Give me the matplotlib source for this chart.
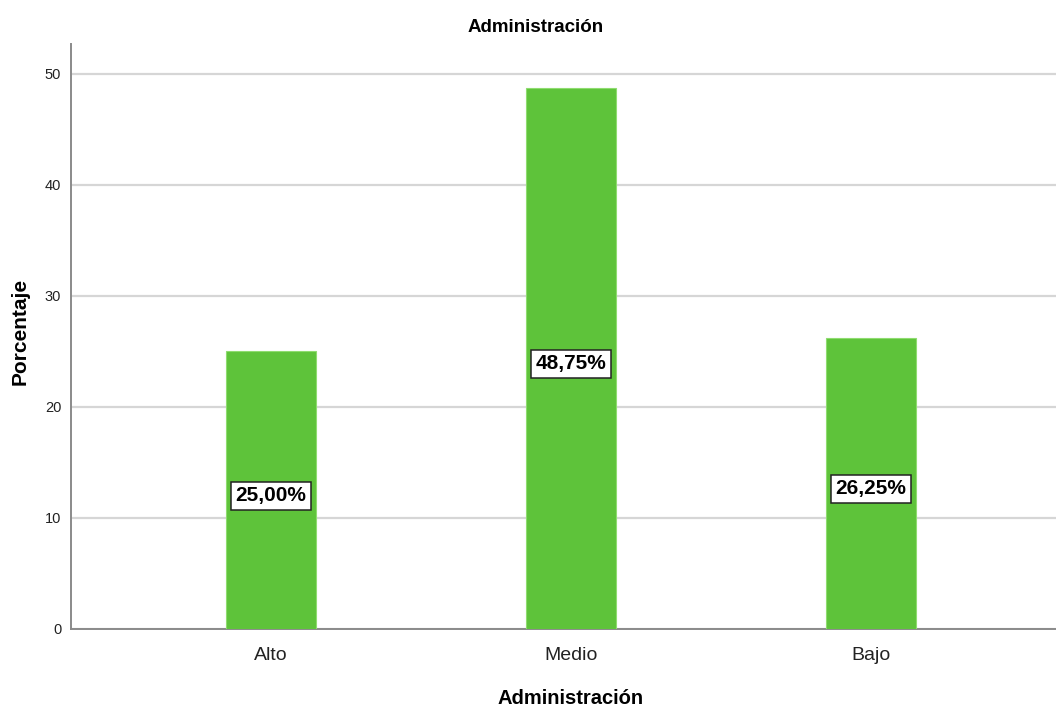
import matplotlib
matplotlib.use("Agg")
import matplotlib.pyplot as plt

categories = ["Alto", "Medio", "Bajo"]
percentages = [25.00, 48.75, 26.25]
y_ticks = [0, 10, 20, 30, 40, 50]
title = "Administración"
x_label = "Administración"
y_label = "Porcentaje"

plt.rcParams["font.family"] = ["Liberation Sans", "DejaVu Sans"]

fig = plt.figure(figsize=(10.56, 7.09), dpi=100)
ax = fig.add_axes([71 / 1056, 1 - 629 / 709, 1 - 71 / 1056, (629 - 44) / 709])

positions = list(range(len(categories)))
ax.bar(positions, percentages, width=0.3, color="#5ec33a",
       edgecolor="#8fdc6f", linewidth=0.8, zorder=3)

# value labels sit at mid-height of each bar, in a white framed box
for x, v in zip(positions, percentages):
    ax.annotate(f"{v:.2f}".replace(".", ",") + "%", xy=(x, v / 2),
                xytext=(0, -4), textcoords="offset points",
                ha="center", va="center", fontsize=15, fontweight="bold",
                color="black", zorder=4,
                bbox=dict(boxstyle="square,pad=0.22", facecolor="white",
                          edgecolor="#222222", linewidth=1.1))

ax.set_xlim(-0.667, 2.617)
ax.set_ylim(0, 52.7)
ax.set_yticks(y_ticks)
ax.set_yticklabels([str(t) for t in y_ticks], fontsize=10.5)
ax.set_xticks(positions)
ax.set_xticklabels(categories, fontsize=14)
ax.tick_params(axis="both", length=0, colors="#222222")
ax.tick_params(axis="y", pad=7)
ax.tick_params(axis="x", pad=13)

ax.grid(axis="y", color="#d6d6d6", linewidth=1.6, zorder=0)
ax.set_axisbelow(True)
for side in ("top", "right"):
    ax.spines[side].set_visible(False)
for side in ("left", "bottom"):
    ax.spines[side].set_color("#8a8a8a")
    ax.spines[side].set_linewidth(1.4)

fig.text(536 / 1056, 1 - 28 / 709, title, ha="center", va="center",
         fontsize=13.5, fontweight="bold")
fig.text(571 / 1056, 1 - 698 / 709, x_label, ha="center", va="center",
         fontsize=14.5, fontweight="bold")
fig.text(20 / 1056, 1 - 331 / 709, y_label, ha="center", va="center",
         rotation=90, fontsize=15, fontweight="bold")

fig.savefig("out.png", dpi=100, facecolor="white")
